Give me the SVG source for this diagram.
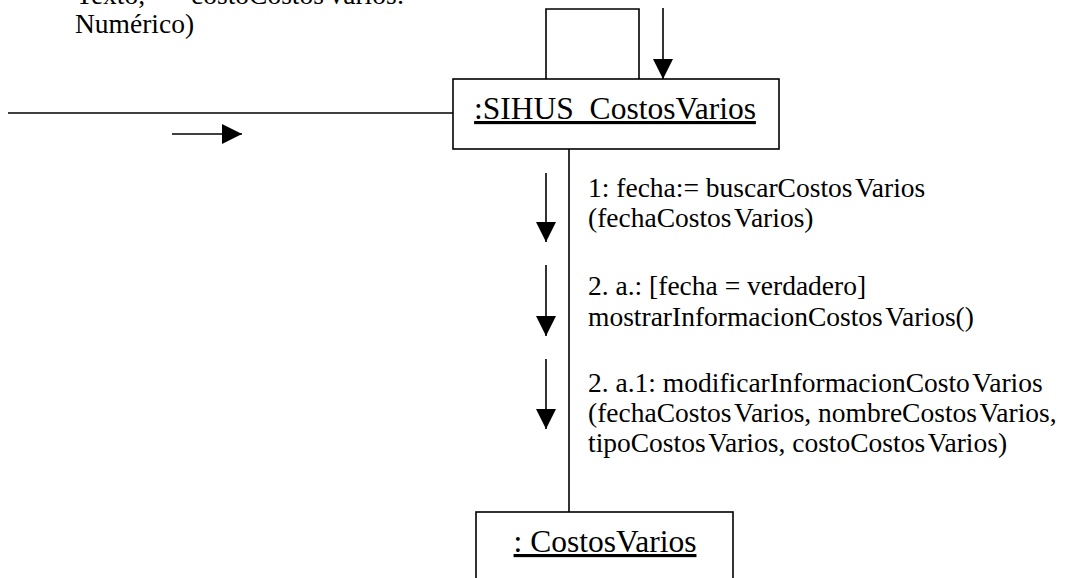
<svg xmlns="http://www.w3.org/2000/svg" width="1077" height="578" viewBox="0 0 1077 578">
<style>
.t{font-family:"Liberation Serif","Times New Roman",serif;font-size:27.5px;fill:#000}
.n{font-family:"Liberation Serif","Times New Roman",serif;font-size:31.5px;fill:#000;text-decoration:underline;text-anchor:middle}
.box{fill:#fff;stroke:#000;stroke-width:1.6}
.ln{fill:none;stroke:#000;stroke-width:1.6}
</style>
<defs>
<marker id="ah" markerUnits="userSpaceOnUse" markerWidth="20" markerHeight="20" refX="20" refY="10" orient="auto">
<path d="M0,0 L20,10 L0,20 Z" fill="#000"/>
</marker>
</defs>
<g id="note">
<text class="t" x="76" y="4">Texto,<tspan x="191">costoCostos</tspan><tspan dx="2.5">Varios:</tspan></text>
<text class="t" x="75" y="33">Numérico)</text>
</g>
<g id="connectors">
<line class="ln" x1="8" y1="113" x2="453" y2="113"/>
<line class="ln" x1="172" y1="134" x2="242" y2="134" marker-end="url(#ah)"/>
<polyline class="ln" points="546,79 546,9 639,9 639,79"/>
<line class="ln" x1="663" y1="8" x2="663" y2="79" marker-end="url(#ah)"/>
<line class="ln" x1="569" y1="149" x2="569" y2="512"/>
<line class="ln" x1="546" y1="173" x2="546" y2="242" marker-end="url(#ah)"/>
<line class="ln" x1="546" y1="265" x2="546" y2="336" marker-end="url(#ah)"/>
<line class="ln" x1="546" y1="359" x2="546" y2="429" marker-end="url(#ah)"/>
</g>
<g id="messages">
<text class="t" x="588" y="197">1: fecha:= buscarCostos<tspan dx="2.5">Varios</tspan></text>
<text class="t" x="588" y="227">(fechaCostos<tspan dx="2.5">Varios)</tspan></text>
<text class="t" x="588" y="295">2. a.: [fecha = verdadero]</text>
<text class="t" x="588" y="326">mostrarInformacionCostos<tspan dx="2.5">Varios()</tspan></text>
<text class="t" x="588" y="392">2. a.1: modificarInformacionCosto<tspan dx="2.5">Varios</tspan></text>
<text class="t" x="588" y="422">(fechaCostos<tspan dx="2.5">Varios, nombreCostos</tspan><tspan dx="2.5">Varios,</tspan></text>
<text class="t" x="588" y="452">tipoCostos<tspan dx="2.5">Varios, costoCostos</tspan><tspan dx="2.5">Varios)</tspan></text>
</g>
<g id="sihus">
<rect class="box" x="453" y="79" width="326" height="70"/>
<text class="n" x="615" y="119">:SIHUS_CostosVarios</text>
</g>
<g id="costosvarios">
<rect class="box" x="476" y="512" width="257" height="80"/>
<text class="n" x="605" y="552">: CostosVarios</text>
</g>
</svg>
